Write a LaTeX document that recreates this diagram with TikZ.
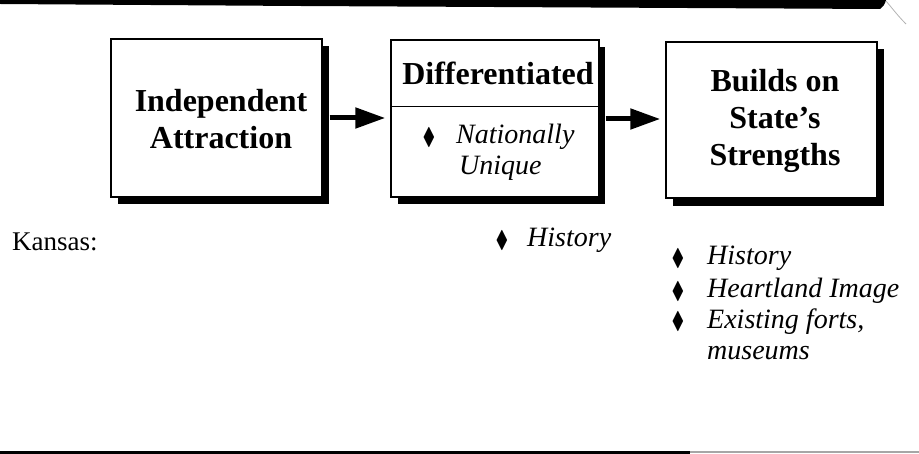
\documentclass[tikz,border=0pt]{standalone}
\usepackage{fontspec}
\setmainfont{Liberation Serif}
\usepackage{amssymb}
\usetikzlibrary{arrows.meta}
\tikzset{
  box/.style={draw=black, line width=1.4pt, fill=white, inner sep=0pt},
  shadowbox/.style={fill=black},
  title/.style={font=\fontsize{32}{37}\selectfont\bfseries, align=center, inner sep=0pt},
  itemtext/.style={font=\fontsize{28}{31}\selectfont\itshape, anchor=west, inner sep=0pt},
  bullet/.style={font=\fontsize{20}{20}\selectfont, inner sep=0pt},
  flow/.style={line width=5pt, -{Triangle[length=30pt,width=20pt]}},
}
\newcommand{\dmd}{\scalebox{0.95}[1.2]{$\blacklozenge$}}
\begin{document}
\begin{tikzpicture}[x=1pt,y=-1pt]
\useasboundingbox (0,0) rectangle (919,454);
% top band
\fill[black] (0,0) -- (886,0) .. controls (885,4) and (883,7) .. (880,9) -- (300,6) -- (0,4) -- cycle;
\draw[gray!60, line width=0.8pt] (886,1) .. controls (892,8) and (898,16) .. (906,24);
% bottom line
\draw[black, line width=3pt] (0,452) -- (690,452);
\draw[gray!70, line width=2.5pt] (690,452) -- (919,452);

% box 1
\fill[shadowbox] (118,46) rectangle (329,204);
\node[box, minimum width=211pt, minimum height=158pt] (b1) at (216.5,118) {};
\node[title] (t1) at (221,119) {Independent\\Attraction};

% box 2
\fill[shadowbox] (398,47) rectangle (605,204);
\node[box, minimum width=208pt, minimum height=157pt] (b2) at (495,118.5) {};
\draw[line width=1pt] (b2.west |- 0,107) coordinate (d1) -- (b2.east |- 0,107) coordinate (d2);
\node[title] (t2) at (498,73) {Differentiated};
\node[bullet] (bl1) at (429,138) {\dmd};
\node[itemtext] (i1) at (456,137) {Nationally};
\node[itemtext] (i2) at (459,168) {Unique};

% box 3
\fill[shadowbox] (673,49) rectangle (884,206);
\node[box, minimum width=211pt, minimum height=156pt] (b3) at (771.5,120) {};
\node[title] (t3) at (775,121) {Builds on\\State's\\Strengths};

% arrows
\draw[flow] ([xshift=7pt]b1.east |- 0,118) coordinate (a1s) -- ([xshift=-5pt]b2.west |- 0,118) coordinate (a1e);
\draw[flow] ([xshift=6pt]b2.east |- 0,119) coordinate (a2s) -- ([xshift=-5pt]b3.west |- 0,119) coordinate (a2e);

% below
\node[font=\fontsize{27}{30}\selectfont, anchor=west, inner sep=0pt] (ks) at (12,242) {Kansas:};
\node[bullet] (bl2) at (502,241) {\dmd};
\node[itemtext] (h1) at (527,240) {History};

\node[bullet] (bl3) at (678,259) {\dmd};
\node[itemtext] (r1) at (707,258) {History};
\node[bullet] (bl4) at (678,292) {\dmd};
\node[itemtext] (r2) at (707,291) {Heartland Image};
\node[bullet] (bl5) at (678,322) {\dmd};
\node[itemtext] (r3) at (707,322) {Existing forts,};
\node[itemtext] (r4) at (707,353) {museums};
\end{tikzpicture}
\end{document}
